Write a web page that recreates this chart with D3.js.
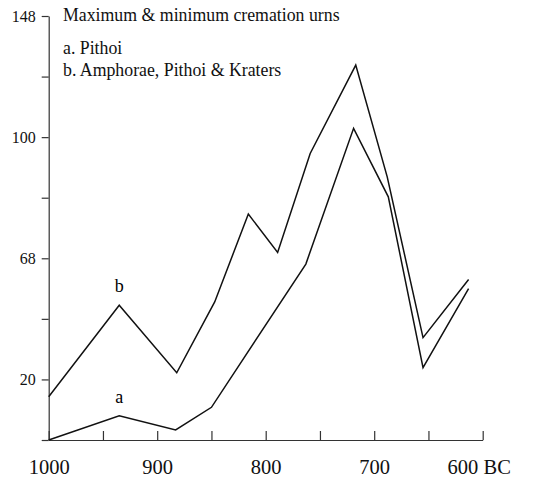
<!DOCTYPE html>
<html>
<head>
<meta charset="utf-8">
<script src="https://cdn.jsdelivr.net/npm/d3@7"></script>
<style>
  body { margin: 0; background: #fff; }
  svg, svg text { font-family: "Liberation Serif", "Times New Roman", serif; }
</style>
</head>
<body>
<svg id="chart" width="547" height="484"></svg>
<script>
// years (BC) and urn sizes
const yearsB = [1000, 935, 882, 847, 816, 789, 759, 717, 688, 655, 613];
const valuesB = [14.3, 44.5, 22.2, 45.6, 74.6, 61.9, 94.6, 123.8, 86.9, 33.8, 53];
const yearsA = [1000, 935, 883, 850, 763, 719, 687, 655, 613];
const valuesA = [0, 8.0, 3.3, 10.8, 58.1, 102.9, 80.3, 23.9, 50];

const xTicks = [1000, 950, 900, 850, 800, 750, 700, 650, 600];
const xTickLabels = ["1000", "", "900", "", "800", "", "700", "", "600 BC"];
const yTicks = [0, 20, 40, 60, 80, 100, 120, 140];
const yTickLabels = ["", "20", "", "68", "", "100", "", "148"];

const titleLines = ["Maximum & minimum cremation urns", "a. Pithoi", "b. Amphorae, Pithoi & Kraters"];

const svg = d3.select("#chart");

const x = d3.scaleLinear().domain([1000, 600]).range([48.7, 482.7]);
const y = d3.scaleLinear().domain([0, 140]).range([440, 16]);

// axes
const xAxis = d3.axisBottom(x)
    .tickValues(xTicks)
    .tickSizeInner(-9)
    .tickSizeOuter(0)
    .tickPadding(19)
    .tickFormat((d, i) => xTickLabels[i]);

const yAxis = d3.axisLeft(y)
    .tickValues(yTicks)
    .tickSizeInner(7)
    .tickSizeOuter(0)
    .tickPadding(6)
    .tickFormat((d, i) => yTickLabels[i]);

const gx = svg.append("g")
    .attr("transform", `translate(0,${y(0)})`)
    .call(xAxis)
    .attr("font-family", null);
gx.selectAll("text").style("font-size", "20.5px").attr("fill", "#111");
// the last label carries the "BC" suffix, nudge it so the whole label sits like the original
gx.selectAll(".tick text").filter(d => d === 600).attr("dx", -4);

const gy = svg.append("g")
    .attr("transform", `translate(${x(1000)},0)`)
    .call(yAxis)
    .attr("font-family", null);
gy.selectAll("text").style("font-size", "16px").attr("fill", "#111");

svg.selectAll(".domain, .tick line").attr("stroke", "#333").attr("stroke-width", 1.2);

// lines
const line = d3.line()
    .x(d => x(d[0]))
    .y(d => y(d[1]));

const seriesB = yearsB.map((yr, i) => [yr, valuesB[i]]);
const seriesA = yearsA.map((yr, i) => [yr, valuesA[i]]);

svg.selectAll(".series")
    .data([seriesB, seriesA])
    .enter().append("path")
    .attr("class", "series")
    .attr("d", line)
    .attr("fill", "none")
    .attr("stroke", "#111")
    .attr("stroke-width", 1.5)
    .attr("stroke-linejoin", "miter");

// series letters above the second point
svg.append("text")
    .attr("x", x(yearsB[1]))
    .attr("y", y(valuesB[1]) - 13)
    .attr("text-anchor", "middle")
    .style("font-size", "18px")
    .text("b");

svg.append("text")
    .attr("x", x(yearsA[1]))
    .attr("y", y(valuesA[1]) - 13)
    .attr("text-anchor", "middle")
    .style("font-size", "18px")
    .text("a");

// title block
svg.selectAll(".title")
    .data(titleLines)
    .enter().append("text")
    .attr("class", "title")
    .attr("x", 63)
    .attr("y", (d, i) => i === 0 ? 21 : 32 + i * 22)
    .style("font-size", "17.8px")
    .attr("fill", "#111")
    .text(d => d);
</script>
</body>
</html>
